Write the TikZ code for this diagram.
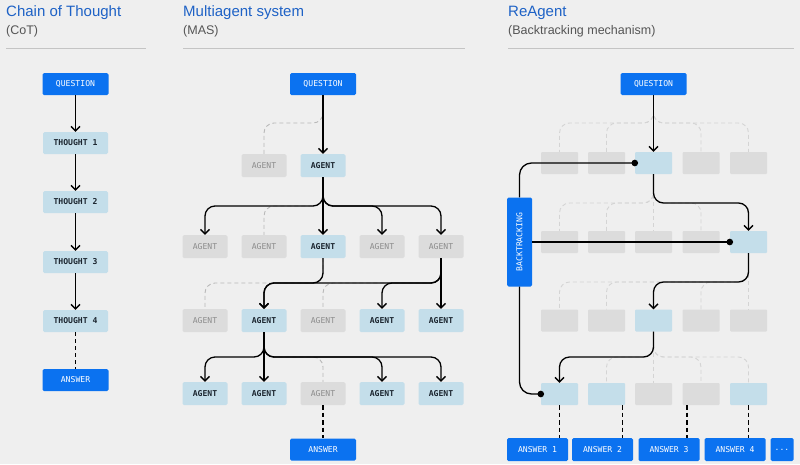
\documentclass[tikz,border=0pt]{standalone}
\usepackage{fontspec}
\usepackage{graphicx}
\usetikzlibrary{arrows.meta}
\newfontfamily\headfont{Liberation Sans}
\newfontfamily\labfont{DejaVu Sans Mono}
\definecolor{bgc}{RGB}{239,239,239}
\definecolor{qblue}{RGB}{11,114,240}
\definecolor{lblue}{RGB}{196,222,234}
\definecolor{gbox}{RGB}{220,220,220}
\definecolor{gtext}{RGB}{140,140,140}
\definecolor{ink}{RGB}{28,38,48}
\definecolor{titleblue}{RGB}{30,98,198}
\definecolor{subgray}{RGB}{85,85,85}
\definecolor{rulegray}{RGB}{196,196,196}
\definecolor{ghostc}{RGB}{184,184,184}
\definecolor{faintc}{RGB}{212,212,212}
\newcommand{\lab}{\labfont\fontsize{8.1}{9.5}\selectfont}

\begin{document}
\begin{tikzpicture}[x=1pt, y=-1pt,
  head/.style={anchor=base west, inner sep=0pt, text=titleblue, font=\headfont\fontsize{15}{18}\selectfont},
  sub/.style={anchor=base west, inner sep=0pt, text=subgray, font=\headfont\fontsize{12.5}{15}\selectfont},
  rulel/.style={draw=rulegray, line width=0.8pt},
  qbox/.style={fill=qblue, text=white, rounded corners=1.5pt, minimum width=66pt, minimum height=22pt, inner sep=0pt, font=\lab},
  thbox/.style={fill=lblue, text=ink, rounded corners=1.5pt, minimum width=65pt, minimum height=22pt, inner sep=0pt, font=\lab\bfseries},
  agbox/.style={fill=lblue, text=ink, rounded corners=1.5pt, minimum width=45pt, minimum height=23pt, inner sep=0pt, font=\lab\bfseries},
  grbox/.style={fill=gbox, text=gtext, rounded corners=1.5pt, minimum width=45pt, minimum height=23pt, inner sep=0pt, font=\lab},
  slot/.style={fill=lblue, rounded corners=1pt, minimum width=37pt, minimum height=22pt, inner sep=0pt},
  grslot/.style={fill=gbox, rounded corners=1pt, minimum width=37pt, minimum height=22pt, inner sep=0pt},
  ansbox/.style={fill=qblue, text=white, rounded corners=1.5pt, minimum width=61pt, minimum height=23pt, inner sep=0pt, font=\lab},
  backbox/.style={fill=qblue, text=white, rounded corners=1.5pt, minimum width=25pt, minimum height=89pt, inner sep=0pt, font=\lab},
  link/.style={draw=black, line width=1.3pt, rounded corners=10pt, -{Straight Barb[length=4.5pt, width=9pt]}},
  ghost/.style={draw=ghostc, line width=0.9pt, rounded corners=10pt, dash pattern=on 4pt off 3pt},
  faint/.style={draw=faintc, line width=0.9pt, rounded corners=10pt, dash pattern=on 4pt off 3pt},
  tail/.style={draw=black, line width=1.9pt, dash pattern=on 4.5pt off 3pt},
  thintail/.style={draw=black, line width=1.2pt, dash pattern=on 4pt off 3pt},
  backline/.style={draw=black, line width=1.3pt, rounded corners=12pt, -{Circle[length=6.5pt]}, shorten >=-3.25pt}
]
  \fill[bgc] (0,0) rectangle (800,464);
  \useasboundingbox (0,0) rectangle (800,464);

  \node[head] (cottitle) at (6,16) {Chain of Thought};
  \node[sub] (cotsub) at (6,34) {(CoT)};
  \draw[rulel] (6,48) -- (146,48);
  \node[head] (mastitle) at (183,16) {Multiagent system};
  \node[sub] (massub) at (183,34) {(MAS)};
  \draw[rulel] (183,48) -- (465,48);
  \node[head] (retitle) at (508,16) {ReAgent};
  \node[sub] (resub) at (508,34) {(Backtracking mechanism)};
  \draw[rulel] (508,48) -- (794,48);

  \node[qbox] (cotq) at (75.5,84) {QUESTION};
  \node[thbox] (cot1) at (75.5,143) {THOUGHT 1};
  \node[thbox] (cot2) at (75.5,202) {THOUGHT 2};
  \node[thbox] (cot3) at (75.5,262) {THOUGHT 3};
  \node[thbox] (cot4) at (75.5,321) {THOUGHT 4};
  \node[qbox] (cota) at (75.5,380) {ANSWER};

  \node[qbox] (masq) at (323,84) {QUESTION};
  \node[grbox] (m12) at (264,165.5) {AGENT};
  \node[agbox] (m13) at (323,165.5) {AGENT};
  \node[grbox] (m21) at (205,246.5) {AGENT};
  \node[grbox] (m22) at (264,246.5) {AGENT};
  \node[agbox] (m23) at (323,246.5) {AGENT};
  \node[grbox] (m24) at (382,246.5) {AGENT};
  \node[grbox] (m25) at (441,246.5) {AGENT};
  \node[grbox] (m31) at (205,320.5) {AGENT};
  \node[agbox] (m32) at (264,320.5) {AGENT};
  \node[grbox] (m33) at (323,320.5) {AGENT};
  \node[agbox] (m34) at (382,320.5) {AGENT};
  \node[agbox] (m35) at (441,320.5) {AGENT};
  \node[agbox] (m41) at (205,393.5) {AGENT};
  \node[agbox] (m42) at (264,393.5) {AGENT};
  \node[grbox] (m43) at (323,393.5) {AGENT};
  \node[agbox] (m44) at (382,393.5) {AGENT};
  \node[agbox] (m45) at (441,393.5) {AGENT};
  \node[qbox] (masa) at (323,449.5) {ANSWER};

  \node[qbox] (req) at (653.5,84) {QUESTION};
  \node[grslot] (r11) at (559.5,163) {};
  \node[grslot] (r12) at (606.5,163) {};
  \node[slot] (r13) at (653.5,163) {};
  \node[grslot] (r14) at (701,163) {};
  \node[grslot] (r15) at (748.5,163) {};
  \node[grslot] (r21) at (559.5,242) {};
  \node[grslot] (r22) at (606.5,242) {};
  \node[grslot] (r23) at (653.5,242) {};
  \node[grslot] (r24) at (701,242) {};
  \node[slot] (r25) at (748.5,242) {};
  \node[grslot] (r31) at (559.5,320.5) {};
  \node[grslot] (r32) at (606.5,320.5) {};
  \node[slot] (r33) at (653.5,320.5) {};
  \node[grslot] (r34) at (701,320.5) {};
  \node[grslot] (r35) at (748.5,320.5) {};
  \node[slot] (r41) at (559.5,394) {};
  \node[slot] (r42) at (606.5,394) {};
  \node[grslot] (r43) at (653.5,394) {};
  \node[grslot] (r44) at (701,394) {};
  \node[slot] (r45) at (748.5,394) {};
  \node[backbox] (back) at (519.5,242) {\rotatebox{90}{BACKTRACKING}};
  \node[ansbox] (ans1) at (537.5,449.5) {ANSWER 1};
  \node[ansbox] (ans2) at (602.5,449.5) {ANSWER 2};
  \node[ansbox] (ans3) at (669,449.5) {ANSWER 3};
  \node[ansbox] (ans4) at (735,449.5) {ANSWER 4};
  \node[ansbox, minimum width=23pt] (ansmore) at (782,449.5) {...};

  \draw[link] (cotq) -- (cot1);
  \draw[link] (cot1) -- (cot2);
  \draw[link] (cot2) -- (cot3);
  \draw[link] (cot3) -- (cot4);
  \draw[thintail] (cot4) -- (cota);

  \draw[ghost] (masq.south) -- (masq.south |- 0,123) -| (m12.north);
  \draw[ghost] (m13.south) -- (m13.south |- 0,206) -| (m22.north);
  \draw[ghost] (m23.south) -- (m23.south |- 0,283) -| (m31.north);
  \draw[ghost] (m25.south) -- (m25.south |- 0,283) -| (m33.north);
  \draw[ghost] (m32.south) -- (m32.south |- 0,357) -| (m43.north);
  \draw[link] (masq) -- (m13);
  \draw[link] (m13.south) -- (m13.south |- 0,206) -| (m21.north);
  \draw[link] (m13) -- (m23);
  \draw[link] (m13.south) -- (m13.south |- 0,206) -| (m24.north);
  \draw[link] (m13.south) -- (m13.south |- 0,206) -| (m25.north);
  \draw[link] (m23.south) -- (m23.south |- 0,283) -| (m32.north);
  \draw[link] (m25.south) -- (m25.south |- 0,283) -| (m32.north);
  \draw[link] (m25.south) -- (m25.south |- 0,283) -| (m34.north);
  \draw[link] (m25) -- (m35);
  \draw[link] (m32.south) -- (m32.south |- 0,357) -| (m41.north);
  \draw[link] (m32) -- (m42);
  \draw[link] (m32.south) -- (m32.south |- 0,357) -| (m44.north);
  \draw[link] (m32.south) -- (m32.south |- 0,357) -| (m45.north);
  \draw[tail] (m43) -- (masa);

  \draw[faint] (req.south) -- (req.south |- 0,123) -| (r11.north);
  \draw[faint] (req.south) -- (req.south |- 0,123) -| (r12.north);
  \draw[faint] (req.south) -- (req.south |- 0,123) -| (r14.north);
  \draw[faint] (req.south) -- (req.south |- 0,123) -| (r15.north);
  \draw[faint] (r13.south) -- (r13.south |- 0,203) -| (r21.north);
  \draw[faint] (r13.south) -- (r13.south |- 0,203) -| (r22.north);
  \draw[faint] (r13) -- (r23);
  \draw[faint] (r13.south) -- (r13.south |- 0,203) -| (r24.north);
  \draw[faint] (r25.south) -- (r25.south |- 0,282) -| (r31.north);
  \draw[faint] (r25.south) -- (r25.south |- 0,282) -| (r32.north);
  \draw[faint] (r25.south) -- (r25.south |- 0,282) -| (r34.north);
  \draw[faint] (r25) -- (r35);
  \draw[faint] (r33.south) -- (r33.south |- 0,357) -| (r42.north);
  \draw[faint] (r33) -- (r43);
  \draw[faint] (r33.south) -- (r33.south |- 0,357) -| (r44.north);
  \draw[faint] (r33.south) -- (r33.south |- 0,357) -| (r45.north);
  \draw[link] (req) -- (r13);
  \draw[link] (r13.south) -- (r13.south |- 0,203) -| (r25.north);
  \draw[link] (r25.south) -- (r25.south |- 0,282) -| (r33.north);
  \draw[link] (r33.south) -- (r33.south |- 0,357) -| (r41.north);
  \draw[backline] (back.north) |- (r13.west);
  \draw[backline] (back.east) -- (r25.west);
  \draw[backline] (back.south) |- (r41.west);

  \coordinate (d1) at (r41.south);
  \coordinate (d2) at ([xshift=16pt]r42.south);
  \coordinate (d3) at ([xshift=-14pt]r44.south);
  \coordinate (d4) at (r45.south);
  \draw[tail] (d1) -- (d1 |- ans1.north);
  \draw[tail] (d2) -- (d2 |- ans2.north);
  \draw[tail] (d3) -- (d3 |- ans3.north);
  \draw[tail] (d4) -- (d4 |- ans4.north);
\end{tikzpicture}
\end{document}
